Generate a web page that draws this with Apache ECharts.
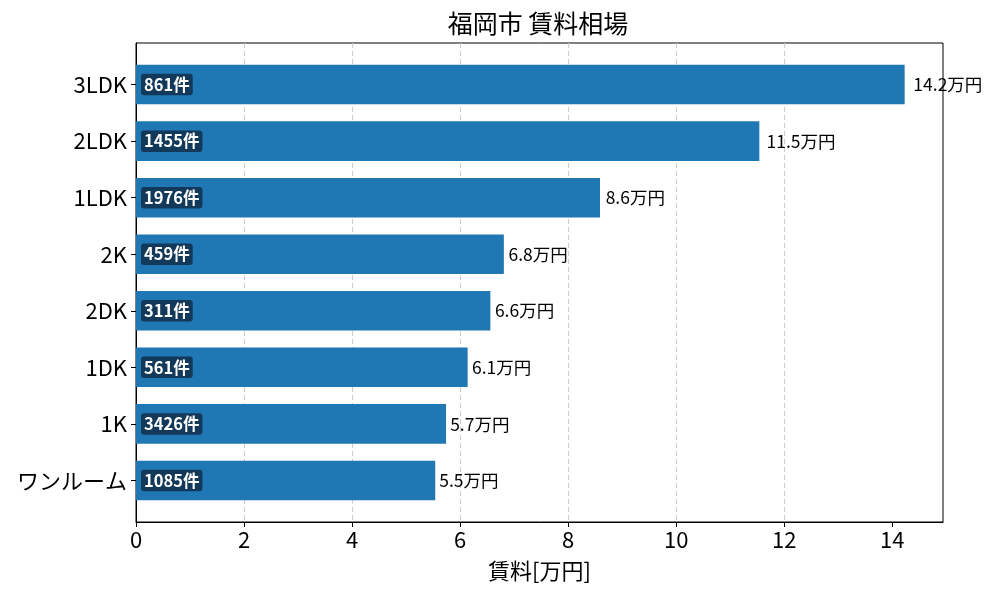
<!DOCTYPE html>
<html><head><meta charset="utf-8">
<script src="https://cdn.jsdelivr.net/npm/echarts@6/dist/echarts.min.js"></script>
<style>html,body{margin:0;padding:0;background:#fff}#c{width:1000px;height:600px}</style>
</head><body><div id="c"></div>
<script>
const categories = ['ワンルーム','1K','1DK','2DK','2K','1LDK','2LDK','3LDK'];
const rents = [5.54, 5.74, 6.14, 6.56, 6.81, 8.59, 11.54, 14.23];
const counts = [1085, 3426, 561, 311, 459, 1976, 1455, 861];
const xTicks = [0,2,4,6,8,10,12,14];
const xMax = 14.94;

const FONT = '"Noto Sans CJK JP","Noto Sans",sans-serif';
const chart = echarts.init(document.getElementById('c'));
const pxPerUnit = (1000-136-57)/xMax;
chart.setOption({
  animation:false,
  textStyle:{fontFamily:FONT},
  title:{text:'福岡市 賃料相場',left:533,top:6,textAlign:'center',
    textStyle:{fontFamily:FONT,fontSize:25,fontWeight:'normal',color:'#000'}},
  grid:[
    {left:136,right:57,top:56.3,bottom:91.3},
    {left:136,right:57,top:43,bottom:78,show:true,borderColor:'#000',borderWidth:1,backgroundColor:'transparent'}
  ],
  xAxis:[
    {gridIndex:0,type:'value',min:0,max:xMax,show:false},
    {gridIndex:1,type:'value',min:0,max:xMax,interval:2,
      axisLine:{show:true,lineStyle:{color:'#000'}},
      axisTick:{show:true,length:5,lineStyle:{color:'#000'},customValues:xTicks},
      axisLabel:{fontSize:22,color:'#000',margin:7,fontFamily:FONT,customValues:xTicks,
        formatter:v=>String(v)},
      splitLine:{show:true,showMinLine:false,showMaxLine:false,lineStyle:{color:'#cccccc',type:[5,3]}},
      name:'賃料[万円]',nameLocation:'middle',nameGap:38,
      nameTextStyle:{fontSize:22,color:'#000',fontFamily:FONT}}
  ],
  yAxis:[
    {gridIndex:0,type:'category',data:categories,
      axisLine:{show:false},
      axisTick:{show:true,alignWithLabel:true,length:5,lineStyle:{color:'#000'}},
      axisLabel:{fontSize:22,color:'#000',margin:9,fontFamily:FONT},
      splitLine:{show:false}},
    {gridIndex:1,type:'value',min:0,max:1,
      axisLine:{show:true,lineStyle:{color:'#000'}},
      axisTick:{show:false},axisLabel:{show:false},splitLine:{show:false}}
  ],
  series:[
    {type:'bar',xAxisIndex:0,yAxisIndex:0,data:rents,barWidth:'70%',
      itemStyle:{color:'#1f77b4'},
      label:{show:true,position:'insideLeft',distance:5,
        formatter:p=>counts[p.dataIndex]+'件',
        color:'#fff',fontWeight:'bold',fontSize:16.5,fontFamily:FONT,
        backgroundColor:'#12395a',borderRadius:3,padding:[3,3,2,3]}},
    {type:'bar',xAxisIndex:0,yAxisIndex:0,barGap:'-100%',barWidth:'70%',
      data:rents.map(v=>({value:v,label:{distance:v*0.01*pxPerUnit+1}})),
      itemStyle:{color:'rgba(0,0,0,0)'},
      label:{show:true,position:'right',
        formatter:p=>p.value.toFixed(1)+'万円',
        color:'#000',fontSize:17.5,fontFamily:FONT}}
  ]
});
</script></body></html>
